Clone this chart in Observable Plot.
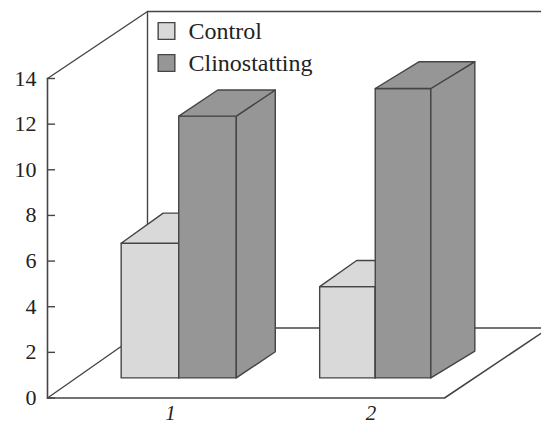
<!DOCTYPE html>
<html>
<head>
<meta charset="utf-8">
<style>html,body{margin:0;padding:0;background:#fff}svg{display:block}</style>
<script src="https://cdn.jsdelivr.net/npm/d3@7"></script>
<script src="https://cdn.jsdelivr.net/npm/@observablehq/plot@0.6"></script>
</head>
<body>
<script>
const categories = ["1", "2"];
const seriesNames = ["Control", "Clinostatting"];
const control = [5.9, 4.0];
const clinostatting = [11.47, 12.68];
const yTicks = [0, 2, 4, 6, 8, 10, 12, 14];

// oblique depth axis, expressed in data units of x and y
const X_UNIT = 198.5, Y_UNIT = 22.82, ML = 47;
const depthX = 100 / X_UNIT, depthY = 67 / Y_UNIT;
const proj = (x, y, dx, dy = dx) => ({px: x + dx * depthX, py: y + dy * depthY});

const INK = "#454545", FONT = "Liberation Serif";
const FILLS = {Control: "#d9d9d9", Clinostatting: "#969696"};
const groupCenter = [0.51, 1.5];
const barW = [0.29, 0.28];
const depthStart = 0.3;
const depthSpanX = {Control: [0.42, 0.37], Clinostatting: [0.39, 0.44]};
const depthSpanY = {Control: [0.45, 0.39], Clinostatting: [0.39, 0.40]};
const backBase = 0.13;

function box(x0, x1, v, s, i) {
  const a = depthStart, bx = a + depthSpanX[s][i], by = a + depthSpanY[s][i];
  const faces = {
    front: [proj(x0, 0, a), proj(x1, 0, a), proj(x1, v, a), proj(x0, v, a)],
    side: [proj(x1, 0, a), proj(x1, 0, bx, by), proj(x1, v, bx, by), proj(x1, v, a)],
    top: [proj(x0, v, a), proj(x1, v, a), proj(x1, v, bx, by), proj(x0, v, bx, by)]
  };
  return Object.entries(faces).flatMap(([f, pts]) => pts.map(p => ({...p, z: s + i + f})));
}
const poly = (pts, fill) => Plot.line(pts, {
  x: "px", y: "py", z: "z", fill, stroke: INK, strokeWidth: 1.4,
  curve: "linear-closed", strokeLinejoin: "round"
});
const path = (pts, w = 1.4) => Plot.line(pts, {x: "px", y: "py", stroke: INK, strokeWidth: w});

const marks = [
  // back wall and its top edge
  path([proj(0, 14, 0), proj(0, 14, 1), proj(2, 14, 1)]),
  path([proj(0, 14, 1), proj(0, backBase, 1)]),
  // floor
  path([proj(0, 0, 0), proj(0, backBase, 1), proj(2, backBase, 1)]),
  path([proj(0, 0, 0), proj(2, 0, 0), proj(2, 0, 1)], 1.6),
  // y axis line and ticks
  path([proj(0, 0, 0), proj(0, 14, 0)], 1.6),
  Plot.ruleY(yTicks, {x1: 0, x2: 8 / X_UNIT, stroke: INK, strokeWidth: 1.4}),
  Plot.axisY({ticks: yTicks, tickSize: 0, tickPadding: 11, label: null, fontSize: 22, fontFamily: FONT, fill: "#222"})
];
// bars
categories.forEach((c, i) => {
  const x0 = groupCenter[i] - barW[i], xm = groupCenter[i], x1 = groupCenter[i] + barW[i];
  marks.push(poly(box(x0, xm, control[i], "Control", i), FILLS.Control));
  marks.push(poly(box(xm, x1, clinostatting[i], "Clinostatting", i), FILLS.Clinostatting));
});
// category labels
marks.push(Plot.text(categories, {
  x: (d, i) => [0.62, 1.63][i], y: () => 0, dy: 15, text: d => d,
  fontSize: 21, fontFamily: FONT, fontStyle: "italic", fill: "#222"
}));
// legend inside the frame
seriesNames.forEach((s, i) => {
  const dy = 30.5 + i * 32;
  marks.push(Plot.dot([s], {
    frameAnchor: "top-left", dx: 166 - ML, dy, symbol: "square", r: 9.4,
    fill: FILLS[s], stroke: INK, strokeWidth: 1.4
  }));
  marks.push(Plot.text([s], {
    frameAnchor: "top-left", dx: 188 - ML, dy, text: d => d, textAnchor: "start", lineAnchor: "middle",
    fontSize: 24, fontFamily: FONT, fill: "#222"
  }));
});

const chart = Plot.plot({
  width: 541, height: 423,
  marginTop: 0, marginRight: 0, marginBottom: 0, marginLeft: ML,
  style: {background: "#fff"},
  x: {domain: [0, 2], range: [47, 444], axis: null},
  y: {domain: [0, 14], range: [397.5, 78], axis: null},
  marks
});
document.body.appendChild(chart);
</script>
</body>
</html>
